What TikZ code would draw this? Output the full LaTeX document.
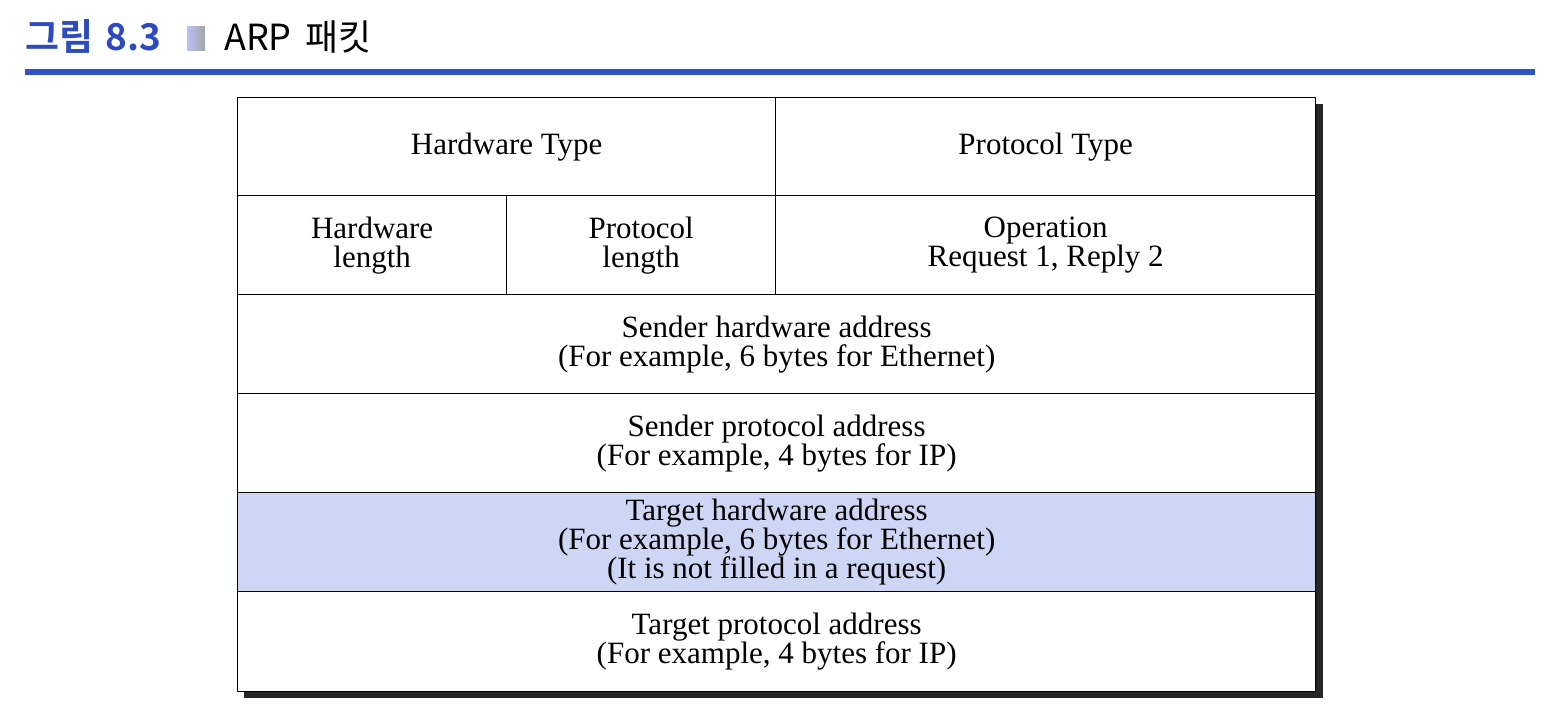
\documentclass[tikz,border=0pt]{standalone}
\usepackage{fontspec}
\setmainfont{Liberation Serif}
\newfontfamily\krfont{Noto Sans CJK KR}
\newfontfamily\krbold{Noto Sans CJK KR Bold}
\definecolor{titleblue}{RGB}{45,75,190}
\definecolor{rulblue}{RGB}{50,80,200}
\definecolor{hilite}{RGB}{206,214,245}
\definecolor{shadowgray}{RGB}{38,38,38}
\tikzset{
  cell/.style={draw=black, line width=1.3pt, inner sep=0pt, align=center, anchor=north west,
     font=\fontsize{31}{29}\selectfont},
}
\begin{document}
\begin{tikzpicture}[x=1pt,y=-1pt]
\useasboundingbox (0,0) rectangle (1550,708);
% title
\node[anchor=base west, inner sep=0pt, text=titleblue, font=\krbold\fontsize{37}{37}\selectfont] (fig) at (25,51) {그림\hspace{12pt}8.3};
\shade[left color=hilite!90!blue, right color=gray!70] (187,27) rectangle (205,51);
\node[anchor=base west, inner sep=0pt, font=\krfont\fontsize{36}{36}\selectfont] (ttl) at (224,51) {ARP\hspace{14pt}패킷};
\fill[rulblue] (25,69) rectangle (1535,75);
% shadow
\fill[shadowgray] (244,104) rectangle (1323,698);
% cells
\node[cell, fill=white, minimum width=538pt, minimum height=98pt] (hwt) at (237,97) {Hardware Type};
\node[cell, fill=white, minimum width=540pt, minimum height=98pt] (prt) at (775,97) {Protocol Type};
\node[cell, fill=white, minimum width=269pt, minimum height=99pt] (hwl) at (237,195) {Hardware\\length};
\node[cell, fill=white, minimum width=269pt, minimum height=99pt] (prl) at (506,195) {Protocol\\length};
\node[cell, fill=white, minimum width=540pt, minimum height=99pt] (op) at (775,195) {Operation\\Request 1, Reply 2};
\node[cell, fill=white, minimum width=1078pt, minimum height=99pt] (sha) at (237,294) {Sender hardware address\\(For example, 6 bytes for Ethernet)};
\node[cell, fill=white, minimum width=1078pt, minimum height=99pt] (spa) at (237,393) {Sender protocol address\\(For example, 4 bytes for IP)};
\node[cell, fill=hilite, minimum width=1078pt, minimum height=99pt] (tha) at (237,492) {Target hardware address\\(For example, 6 bytes for Ethernet)\\(It is not filled in a request)};
\node[cell, fill=white, minimum width=1078pt, minimum height=100pt] (tpa) at (237,591) {Target protocol address\\(For example, 4 bytes for IP)};
\end{tikzpicture}
\end{document}
